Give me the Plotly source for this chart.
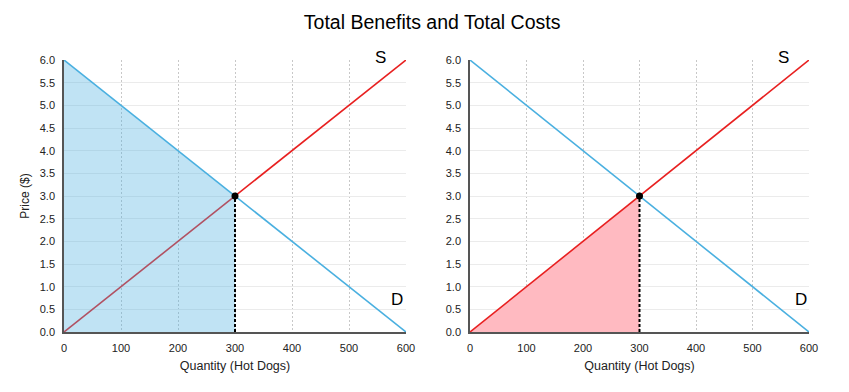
import plotly.graph_objects as go

# Data
quantity = [0, 600]
demand_price = [6.0, 0.0]
supply_price = [0.0, 6.0]
eq_q = 300
eq_p = 3.0
x_ticks = [0, 100, 200, 300, 400, 500, 600]
y_ticks = [0, 0.5, 1, 1.5, 2, 2.5, 3, 3.5, 4, 4.5, 5, 5.5, 6]

BLUE = "rgb(74,176,224)"
RED = "rgb(232,32,32)"
FONT = "Liberation Sans, Arial, sans-serif"

fig = go.Figure()

# ---- Left panel: total benefits ----
fig.add_trace(go.Scatter(x=quantity, y=supply_price, mode="lines",
                         line=dict(color=RED, width=1.6), xaxis="x", yaxis="y",
                         hoverinfo="skip"))
fig.add_trace(go.Scatter(x=[quantity[0], quantity[0], eq_q, eq_q, quantity[0]],
                         y=[0, demand_price[0], eq_p, 0, 0],
                         fill="toself", fillcolor="rgba(74,176,224,0.35)",
                         line=dict(width=0), mode="lines", xaxis="x", yaxis="y",
                         hoverinfo="skip"))
fig.add_trace(go.Scatter(x=quantity, y=demand_price, mode="lines",
                         line=dict(color=BLUE, width=1.6), xaxis="x", yaxis="y",
                         hoverinfo="skip"))

# ---- Right panel: total costs ----
fig.add_trace(go.Scatter(x=[quantity[0], eq_q, eq_q, quantity[0]],
                         y=[supply_price[0], eq_p, 0, 0],
                         fill="toself", fillcolor="rgb(255,186,193)",
                         line=dict(width=0), mode="lines", xaxis="x2", yaxis="y2",
                         hoverinfo="skip"))
fig.add_trace(go.Scatter(x=quantity, y=demand_price, mode="lines",
                         line=dict(color=BLUE, width=1.6), xaxis="x2", yaxis="y2",
                         hoverinfo="skip"))
fig.add_trace(go.Scatter(x=quantity, y=supply_price, mode="lines",
                         line=dict(color=RED, width=1.6), xaxis="x2", yaxis="y2",
                         hoverinfo="skip"))

for xa, ya in [("x", "y"), ("x2", "y2")]:
    fig.add_trace(go.Scatter(x=[eq_q, eq_q], y=[0, eq_p], mode="lines",
                             line=dict(color="black", width=2, dash="3px,2px"),
                             xaxis=xa, yaxis=ya, hoverinfo="skip"))
    fig.add_trace(go.Scatter(x=[eq_q], y=[eq_p], mode="markers",
                             marker=dict(color="black", size=7),
                             xaxis=xa, yaxis=ya, hoverinfo="skip"))
    fig.add_annotation(x=555, y=6.0, xref=xa, yref=ya, text="S", showarrow=False,
                       yanchor="bottom", yshift=-9, font=dict(size=17, color="black", family=FONT))
    fig.add_annotation(x=585, y=0.72, xref=xa, yref=ya, text="D", showarrow=False,
                       font=dict(size=17, color="black", family=FONT))

xcommon = dict(range=[0, 600], tickvals=x_ticks, showgrid=True, gridcolor="#c8c8c8",
               griddash="2px,2px", gridwidth=1, zeroline=False, showline=True, automargin=False,
               linecolor="#555", linewidth=1.5, ticks="outside", ticklen=5, tickcolor="rgba(0,0,0,0)",
               tickfont=dict(size=11, color="#222"),
               title=dict(text="Quantity (Hot Dogs)", font=dict(size=12.5, color="#222"), standoff=8))
ycommon = dict(range=[0, 6], tickvals=y_ticks, tickformat=".1f", showgrid=True, automargin=False,
               gridcolor="#ebebeb", gridwidth=1, zeroline=False, showline=True,
               linecolor="#555", linewidth=1.5, ticks="outside", ticklen=5, tickcolor="rgba(0,0,0,0)",
               tickfont=dict(size=11, color="#222"))

fig.update_layout(
    width=849, height=392,
    margin=dict(l=0, r=0, t=0, b=0, autoexpand=False),
    paper_bgcolor="white", plot_bgcolor="white",
    showlegend=False,
    font=dict(family=FONT, color="#222"),
    title=dict(text="Total Benefits and Total Costs", x=0.509, xanchor="center",
               y=0.944, yanchor="middle", font=dict(size=19.5, color="black")),
    xaxis=dict(domain=[64 / 849, 406 / 849], anchor="y", **xcommon),
    yaxis=dict(domain=[1 - 332 / 392, 1 - 60 / 392], anchor="x",
               title=dict(text="Price ($)", font=dict(size=12, color="#222"), standoff=8),
               **ycommon),
    xaxis2=dict(domain=[470 / 849, 809 / 849], anchor="y2", **xcommon),
    yaxis2=dict(domain=[1 - 332 / 392, 1 - 60 / 392], anchor="x2", **ycommon),
)

fig.write_html("out.html", config={"displayModeBar": False},
               post_script="document.body.style.margin='0';document.body.style.padding='0';document.body.style.overflow='hidden';")
